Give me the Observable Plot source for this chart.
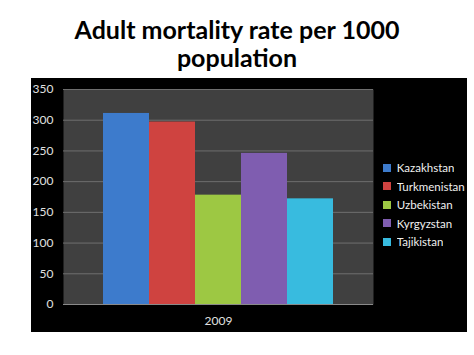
<!DOCTYPE html>
<html>
<head>
<meta charset="utf-8">
<script src="https://cdn.jsdelivr.net/npm/d3@7"></script>
<script src="https://cdn.jsdelivr.net/npm/@observablehq/plot@0.6"></script>
<style>
  html, body { margin: 0; padding: 0; background: #fff; width: 474px; height: 355px; overflow: hidden; }
  #title { position: absolute; left: 0; top: 15px; width: 474px; text-align: center;
    font-family: Lato, "Open Sans", sans-serif; font-weight: bold; font-size: 25px; line-height: 28px; color: #000; }
  #panel { position: absolute; left: 31px; top: 78px; width: 436px; height: 254px; background: #000; }
  #legend { position: absolute; left: 352px; top: 81px; width: 84px; }
</style>
</head>
<body>
<div id="title">Adult mortality rate per 1000<br>population</div>
<div id="panel"><div id="chart"></div><div id="legend"></div></div>
<script>
const countries = ["Kazakhstan", "Turkmenistan", "Uzbekistan", "Kyrgyzstan", "Tajikistan"];
const values = [311, 297, 178, 246, 172];
const colors = ["#3d7bcc", "#cf4340", "#9dc843", "#7f5db0", "#38bbdf"];
const years = ["2009"];
const yTicks = [0, 50, 100, 150, 200, 250, 300, 350];

const data = countries.map((c, i) => ({country: c, value: values[i], year: years[0]}));

const chart = Plot.plot({
  width: 436,
  height: 254,
  marginLeft: 32,
  marginRight: 94,
  marginTop: 11,
  marginBottom: 28,
  style: {background: "#000", color: "#e0e0e0", fontFamily: "Lato, 'Open Sans', sans-serif", fontSize: "12px"},
  fx: {domain: years, padding: 0, label: null, axis: "bottom", tickSize: 0, tickPadding: 12},
  x: {domain: countries, paddingInner: 0, paddingOuter: 0.8, axis: null},
  y: {domain: [0, 350], ticks: yTicks, label: null, tickSize: 0, tickPadding: 10},
  color: {domain: countries, range: colors},
  marks: [
    Plot.frame({fill: "#404040", stroke: null}),
    Plot.gridY(yTicks.slice(1), {stroke: "#6e6e6e", strokeOpacity: 1}),
    Plot.barY(data, {fx: "year", x: "country", y: "value", fill: "country"}),
    Plot.ruleY([0], {stroke: "#8a8a8a"})
  ]
});
document.getElementById("chart").appendChild(chart);

const legend = Plot.legend({
  color: {domain: countries, range: colors},
  legend: "swatches",
  columns: 1,
  swatchSize: 8,
  style: {color: "#f0f0f0", fontFamily: "Lato, 'Open Sans', sans-serif", fontSize: "11.5px", lineHeight: "17.5px", background: "transparent"}
});
document.getElementById("legend").appendChild(legend);
</script>
</body>
</html>
